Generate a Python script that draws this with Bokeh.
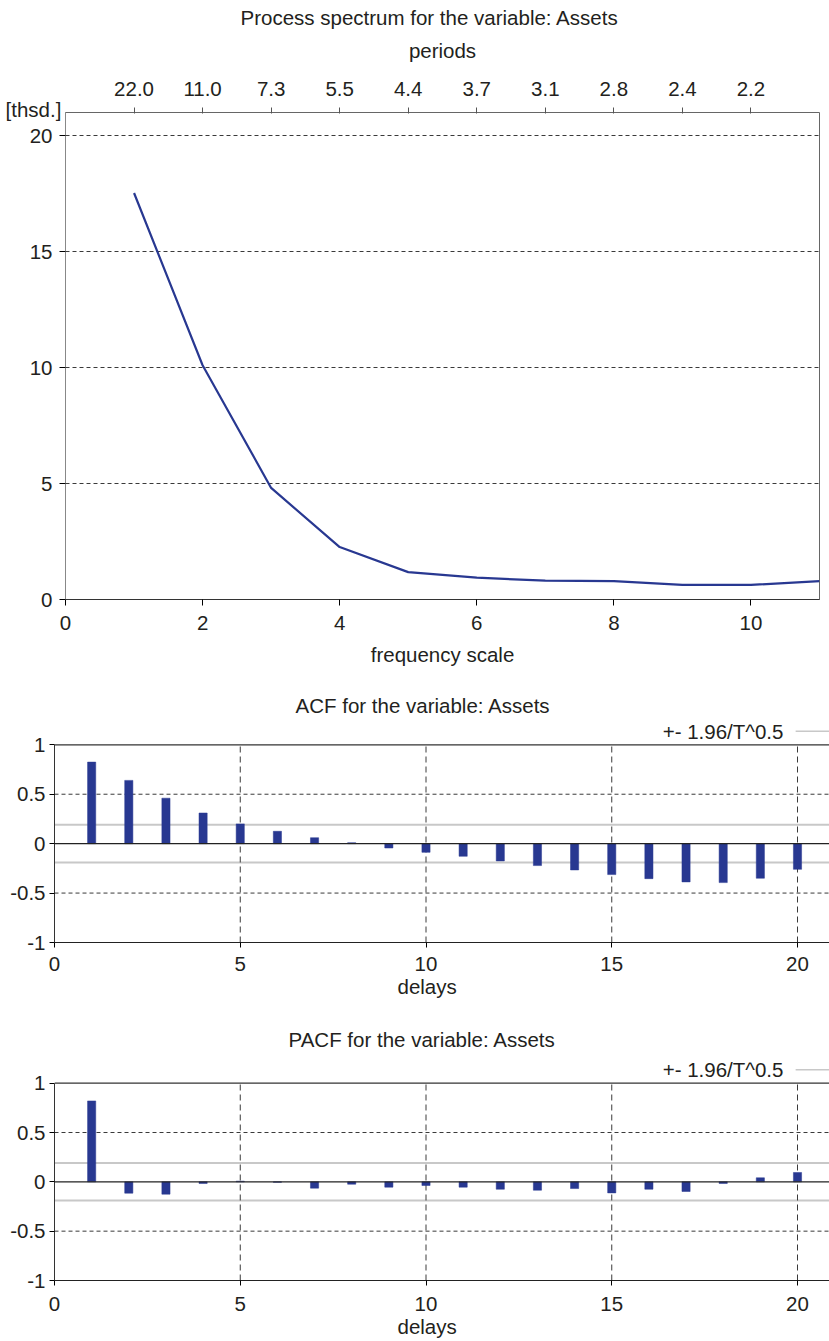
from bokeh.plotting import figure
from bokeh.models import LinearAxis, FixedTicker, Span, Label, Range1d, Title
from bokeh.embed import file_html
from bokeh.resources import INLINE

FONT = "Liberation Sans"
FS = "20.5px"
TXT = "#231f20"
BLUE = "#283891"
GRID = "#3a3a3a"
BAND_C = "#c8c8c8"

# ---------------- data ----------------
frequency = [1, 2, 3, 4, 5, 6, 7, 8, 9, 10, 11]
spectrum = [17.53, 10.1, 4.81, 2.26, 1.18, 0.94, 0.81, 0.79, 0.63, 0.63, 0.79]
freq_ticks = [0, 2, 4, 6, 8, 10]
spec_ticks = [0, 5, 10, 15, 20]
period_pos = [1, 2, 3, 4, 5, 6, 7, 8, 9, 10]
period_labels = ["22.0", "11.0", "7.3", "5.5", "4.4", "3.7", "3.1", "2.8", "2.4", "2.2"]

lags = list(range(1, 21))
acf = [0.825, 0.64, 0.46, 0.31, 0.20, 0.125, 0.06, 0.01, -0.044, -0.088,
       -0.128, -0.175, -0.222, -0.266, -0.313, -0.354, -0.387, -0.394, -0.35, -0.26]
pacf = [0.82, -0.115, -0.125, -0.017, 0.007, -0.005, -0.064, -0.024, -0.054, -0.037,
        -0.054, -0.075, -0.085, -0.068, -0.112, -0.075, -0.098, -0.017, 0.041, 0.095]
conf = 0.19
lag_ticks = [0, 5, 10, 15, 20]
corr_ticks = [-1, -0.5, 0, 0.5, 1]
corr_labels = ["-1", "-0.5", "0", "0.5", "1"]
legend_text = "+- 1.96/T^0.5"


def style_axis(ax, tick_out=6, standoff=6):
    ax.major_label_text_font = FONT
    ax.major_label_text_font_size = FS
    ax.major_label_text_color = TXT
    ax.axis_label_text_font = FONT
    ax.axis_label_text_font_size = FS
    ax.axis_label_text_font_style = "normal"
    ax.axis_label_text_color = TXT
    ax.major_tick_out = tick_out
    ax.major_tick_in = 0
    ax.minor_tick_out = 0
    ax.minor_tick_in = 0
    ax.major_label_standoff = standoff


def make_title(text, offset, standoff, valign="bottom"):
    return Title(text=text, align="left", offset=offset, standoff=standoff,
                 vertical_align=valign, text_font=FONT, text_font_size=FS,
                 text_font_style="normal", text_color=TXT)


# ---------------- spectrum ----------------
p1 = figure(width=829, height=680, x_range=Range1d(0, 11), y_range=Range1d(0, 21),
            output_backend="svg", toolbar_location=None,
            min_border_left=65, min_border_right=10, min_border_top=112, min_border_bottom=81,
            background_fill_color="white", border_fill_color="white",
            outline_line_color="#666666")
p1.title = make_title("Process spectrum for the variable: Assets", 175, 10, "top")
p1.line(frequency, spectrum, line_color=BLUE, line_width=2.2)

p1.xaxis.ticker = FixedTicker(ticks=freq_ticks)
p1.xaxis.axis_label = "frequency scale"
style_axis(p1.xaxis[0], 6, 10)
p1.xaxis.axis_label_standoff = 10
p1.xaxis.axis_line_color = "#333333"

p1.yaxis.ticker = FixedTicker(ticks=spec_ticks)
style_axis(p1.yaxis[0], 6, 7)
p1.yaxis.axis_line_color = "#888888"

p1.xgrid.visible = False
p1.ygrid.grid_line_color = GRID
p1.ygrid.grid_line_dash = "4 3"

# unit label in the top-left corner: a 6px row next to the frame
p1.add_layout(make_title("[thsd.]", -60, -20, "top"), "above")

top = LinearAxis(ticker=FixedTicker(ticks=period_pos),
                 major_label_overrides={k: v for k, v in zip(period_pos, period_labels)},
                 axis_label="periods")
style_axis(top, 0, 12)
top.major_tick_in = 6
top.axis_label_standoff = 17
top.axis_line_color = None
top.major_tick_line_color = "#555555"
p1.add_layout(top, "above")


# ---------------- ACF / PACF ----------------
def corr_panel(title, title_offset, vals, height, b_top, b_bottom, ytop, lab_standoff):
    xend = 775 / 37.15
    p = figure(width=829, height=height, x_range=Range1d(0, xend), y_range=Range1d(-1, ytop),
               output_backend="svg", toolbar_location=None,
               min_border_left=54, min_border_right=0, min_border_top=b_top,
               min_border_bottom=b_bottom,
               background_fill_color="white", border_fill_color="white",
               outline_line_color=None)
    p.title = make_title(title, title_offset, 4)

    p.xgrid.visible = False
    p.ygrid.visible = False

    for v in (0.5, -0.5):
        p.add_layout(Span(location=v, dimension="width", line_color=GRID,
                          line_dash="4 3", line_width=1, level="underlay"))
    p.segment(x0=lag_ticks[1:], y0=[-1] * 4, x1=lag_ticks[1:], y1=[1] * 4,
              line_color=GRID, line_dash="6 4", line_width=1)
    for v in (conf, -conf):
        p.add_layout(Span(location=v, dimension="width", line_color=BAND_C, line_width=2,
                          level="underlay"))
    p.vbar(x=lags, top=vals, bottom=0, width=0.22, fill_color=BLUE, line_color=BLUE,
           line_width=0.5)
    p.add_layout(Span(location=0, dimension="width", line_color="#222222", line_width=1.2))
    p.add_layout(Span(location=1, dimension="width", line_color="#333333", line_width=1.2))

    p.xaxis.ticker = FixedTicker(ticks=lag_ticks)
    style_axis(p.xaxis[0], 5, lab_standoff)
    p.xaxis.axis_line_color = "#222222"
    p.xaxis.axis_line_width = 1.2

    p.yaxis.ticker = FixedTicker(ticks=corr_ticks)
    p.yaxis.major_label_overrides = {k: v for k, v in zip(corr_ticks, corr_labels)}
    style_axis(p.yaxis[0], 5, 4)
    p.yaxis.bounds = (-1, 1)
    p.yaxis.axis_line_color = "#333333"

    # legend: text followed by a line sample
    p.add_layout(Label(x=19.62, y=1.137, text=legend_text, text_align="right",
                       text_baseline="middle", text_font=FONT, text_font_size=FS,
                       text_color=TXT))
    p.line(x=[19.95, xend], y=[1.137, 1.137], line_color=BAND_C, line_width=1.5)

    p.add_layout(make_title("delays", 343, 0, "middle"), "below")
    return p


p2 = corr_panel("ACF for the variable: Assets", 241, acf, 338, 38, 76, 1.266, 9)
p3 = corr_panel("PACF for the variable: Assets", 234, pacf, 323, 34, 61, 1.311, 11)

open("out.html", "w").write(file_html([p1, p2, p3], INLINE))
